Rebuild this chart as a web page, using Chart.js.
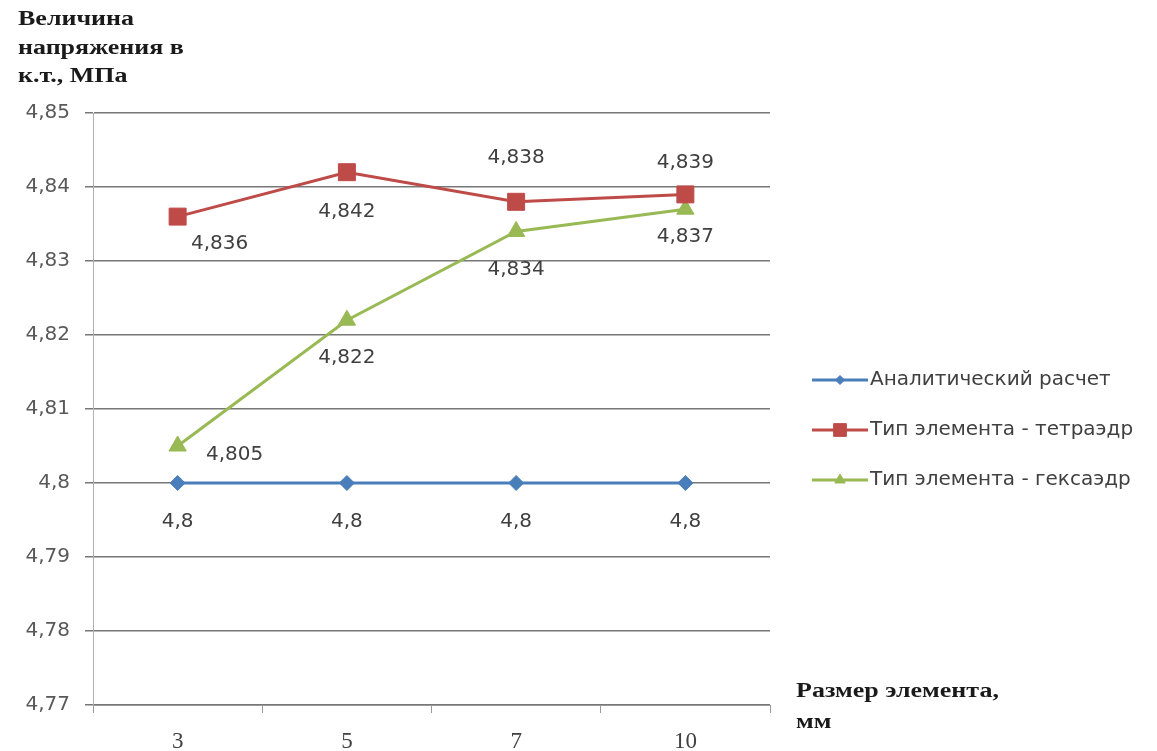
<!DOCTYPE html>
<html>
<head>
<meta charset="utf-8">
<title>Величина напряжения</title>
<script src="https://cdn.jsdelivr.net/npm/chart.js@4/dist/chart.umd.min.js"></script>
<style>
  html, body { margin: 0; padding: 0; background: #fff; }
  #wrap { width: 1157px; height: 751px; }
</style>
</head>
<body>
<div id="wrap"><canvas id="myChart"></canvas></div>
<script>
// data
var sizes = ['3', '5', '7', '10'];
var analytic = [4.8, 4.8, 4.8, 4.8];
var tetra = [4.836, 4.842, 4.838, 4.839];
var hexa = [4.805, 4.822, 4.834, 4.837];
var seriesNames = ['Аналитический расчет', 'Тип элемента - тетраэдр', 'Тип элемента - гексаэдр'];
var yTitle = ['Величина', 'напряжения в', 'к.т., МПа'];
var xTitle = ['Размер элемента,', 'мм'];

// where each value label sits relative to its point (dx, dy)
var labelOffsets = [
  [[0, 39], [0, 39], [0, 39], [0, 39]],
  [[42, 27], [0, 40], [0, -44], [0, -32]],
  [[57, 9], [0, 38], [0, 38], [0, 28]]
];

var colors = ['#4A7EBB', '#BE4B48', '#98B954'];
var styles = ['rectRot', 'rect', 'triangle'];
var radii = [7.5, 12, 10];
var legendRadii = [4.5, 9, 6];

function fmt(v) { return String(v).replace('.', ','); }

// wide bold serif text, like the stretched titles of the original
function wideText(ctx, t, x, y) {
  ctx.save();
  ctx.translate(x, y);
  ctx.scale(1.3, 1);
  ctx.fillText(t, 0, 0);
  ctx.restore();
}

var labelsPlugin = {
  id: 'extras',
  afterDatasetsDraw: function (chart) {
    var ctx = chart.ctx;
    ctx.save();
    ctx.font = '20px "DejaVu Sans"';
    ctx.fillStyle = '#404040';
    ctx.textAlign = 'center';
    ctx.textBaseline = 'middle';
    chart.data.datasets.forEach(function (ds, i) {
      chart.getDatasetMeta(i).data.forEach(function (pt, j) {
        var off = labelOffsets[i][j];
        ctx.fillText(fmt(ds.data[j]), pt.x + off[0], pt.y + off[1]);
      });
    });

    // axis titles
    ctx.fillStyle = '#1a1a1a';
    ctx.textAlign = 'left';
    ctx.font = 'bold 20px "Liberation Serif"';
    yTitle.forEach(function (t, k) { wideText(ctx, t, 18, 20 + k * 28.5); });
    xTitle.forEach(function (t, k) { wideText(ctx, t, 796, 692 + k * 31); });

    // legend
    ctx.font = '20px "DejaVu Sans"';
    chart.data.datasets.forEach(function (ds, i) {
      var y = 380 + i * 50;
      ctx.strokeStyle = ds.borderColor;
      ctx.lineWidth = 3;
      ctx.beginPath(); ctx.moveTo(812, y); ctx.lineTo(868, y); ctx.stroke();
      ctx.fillStyle = ds.borderColor;
      ctx.lineWidth = 1;
      Chart.helpers.drawPoint(ctx, {
        pointStyle: ds.pointStyle, radius: legendRadii[i], rotation: 0, borderWidth: 1
      }, 840, y);
      ctx.fillStyle = '#404040';
      ctx.fillText(ds.label, 870, y);
    });
    ctx.restore();
  }
};

var series = [analytic, tetra, hexa];
var datasets = series.map(function (vals, i) {
  return {
    label: seriesNames[i],
    data: vals,
    borderColor: colors[i],
    backgroundColor: colors[i],
    borderWidth: 3,
    pointStyle: styles[i],
    pointRadius: radii[i],
    pointHoverRadius: radii[i],
    pointBorderWidth: 1,
    tension: 0
  };
});

var ctx = document.getElementById('myChart').getContext('2d');
new Chart(ctx, {
  type: 'line',
  data: { labels: sizes, datasets: datasets },
  options: {
    responsive: true,
    maintainAspectRatio: false,
    animation: false,
    layout: { padding: { left: 0, right: 387, top: 113, bottom: 0 } },
    plugins: { legend: { display: false }, tooltip: { enabled: false } },
    scales: {
      x: {
        offset: true,
        grid: { display: true, drawOnChartArea: false, offset: true, tickLength: 8, color: '#9a9a9a' },
        border: { color: '#9a9a9a', width: 1 },
        ticks: { color: '#404040', font: { family: 'Liberation Serif', size: 23 }, padding: 15 },
        afterFit: function (s) { s.height = 46; }
      },
      y: {
        min: 4.77,
        max: 4.85,
        ticks: {
          stepSize: 0.01,
          color: '#595959',
          font: { family: 'DejaVu Sans', size: 20 },
          padding: 15,
          callback: function (v) { return fmt(Math.round(v * 1000) / 1000); }
        },
        grid: { color: '#777777', lineWidth: 1.5, tickLength: 8 },
        border: { color: '#b0b0b0', width: 1 },
        afterFit: function (s) { s.width = 93; }
      }
    }
  },
  plugins: [labelsPlugin]
});
</script>
</body>
</html>
